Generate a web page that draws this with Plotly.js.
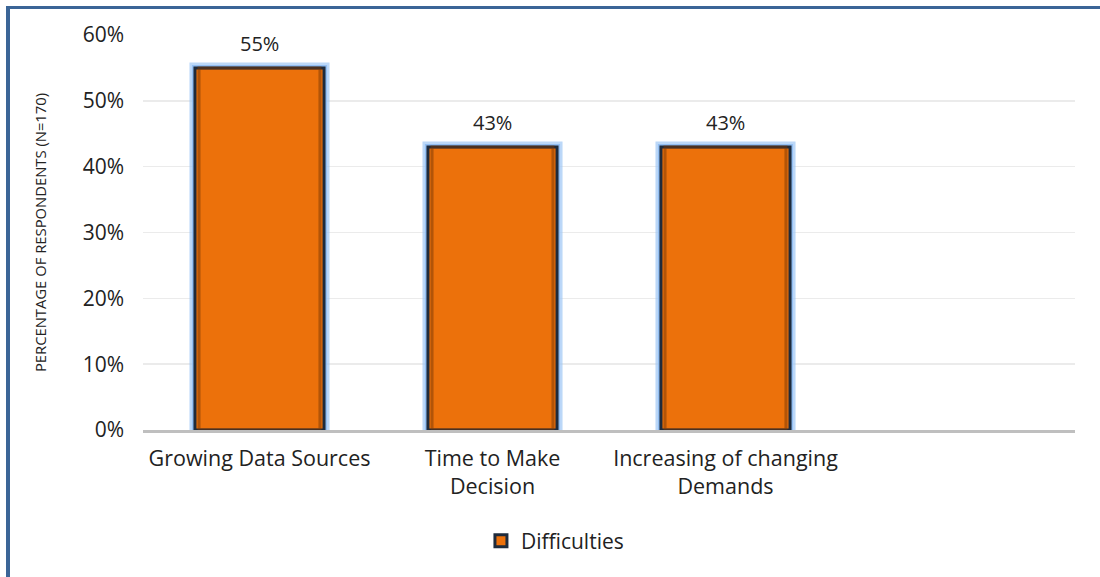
<!DOCTYPE html>
<html>
<head>
<meta charset="utf-8">
<script src="https://cdn.plot.ly/plotly-3.0.1.min.js"></script>
<style>
html,body{margin:0;padding:0;background:#fff;}
#chart{position:absolute;left:0;top:0;width:1100px;height:577px;}
.bt{position:absolute;left:6px;top:6px;width:1094px;height:3px;background:#3B6597;}
.bl{position:absolute;left:6px;top:6px;width:4px;height:571px;background:#3B6597;}
</style>
</head>
<body>
<div id="chart"></div>
<div class="bt"></div>
<div class="bl"></div>
<script>
const categories = ["Growing Data Sources", "Time to Make<br>Decision", "Increasing of changing<br>Demands"];
const values = [0.55, 0.43, 0.43];
const labels = ["55%", "43%", "43%"];
const seriesName = "Difficulties";
const yTicks = [0, 0.1, 0.2, 0.3, 0.4, 0.5, 0.6];
const yTickText = ["0%", "10%", "20%", "30%", "40%", "50%", "60%"];

const font = "Open Sans, Noto Sans, sans-serif";
const W = 0.554;

const glow = {
  type: "bar", x: categories, y: values, width: W,
  marker: {color: "rgba(0,0,0,0)", line: {color: "rgba(160,200,245,0.7)", width: 11}},
  hoverinfo: "skip", showlegend: false
};
const glow2 = {
  type: "bar", x: categories, y: values, width: W,
  marker: {color: "rgba(0,0,0,0)", line: {color: "rgba(120,175,240,0.6)", width: 6}},
  hoverinfo: "skip", showlegend: false
};
const main = {
  type: "bar", x: categories, y: values, name: seriesName, width: W,
  marker: {color: "#EC710B", line: {color: "#1E2B3C", width: 3}}
};
const bevel = {
  type: "bar", x: categories, y: values, width: W - 0.035,
  marker: {color: "rgba(0,0,0,0)", line: {color: "rgba(120,55,5,0.5)", width: 3}},
  hoverinfo: "skip", showlegend: false
};

const annotations = categories.map((c, i) => ({
  x: c, y: values[i], xref: "x", yref: "y", text: labels[i], showarrow: false,
  yanchor: "middle", yshift: 24, font: {family: font, size: 20, color: "#222"}
}));

const layout = {
  width: 1100, height: 577,
  margin: {l: 143, r: 25, t: 35, b: 147},
  paper_bgcolor: "#fff", plot_bgcolor: "#fff",
  barmode: "overlay",
  font: {family: font, size: 20, color: "#222"},
  annotations: annotations,
  xaxis: {
    type: "category", categoryorder: "array", categoryarray: categories,
    range: [-0.5, 3.5], showline: true, linecolor: "#BFBFBF", linewidth: 2.5,
    showgrid: false, ticks: "", tickfont: {family: font, size: 21.5, color: "#222"},
    ticklabelstandoff: 8, fixedrange: true
  },
  yaxis: {
    range: [0, 0.6], tickvals: yTicks, ticktext: yTickText,
    showgrid: true, gridcolor: "#EBEBEB", gridwidth: 1.5, zeroline: false,
    showline: false, ticks: "", ticklen: 0,
    tickfont: {family: font, size: 21, color: "#222"}, ticklabelstandoff: 18,
    title: {text: "PERCENTAGE OF RESPONDENTS (N=170)", font: {family: font, size: 14.8, color: "#222"}, standoff: 32},
    fixedrange: true
  },
  showlegend: true,
  legend: {orientation: "h", x: 0.442, xanchor: "center", y: -0.281, yanchor: "middle",
    font: {family: font, size: 21, color: "#222"}, itemwidth: 30}
};

Plotly.newPlot("chart", [glow, glow2, main, bevel], layout, {displayModeBar: false, staticPlot: true});
</script>
</body>
</html>
